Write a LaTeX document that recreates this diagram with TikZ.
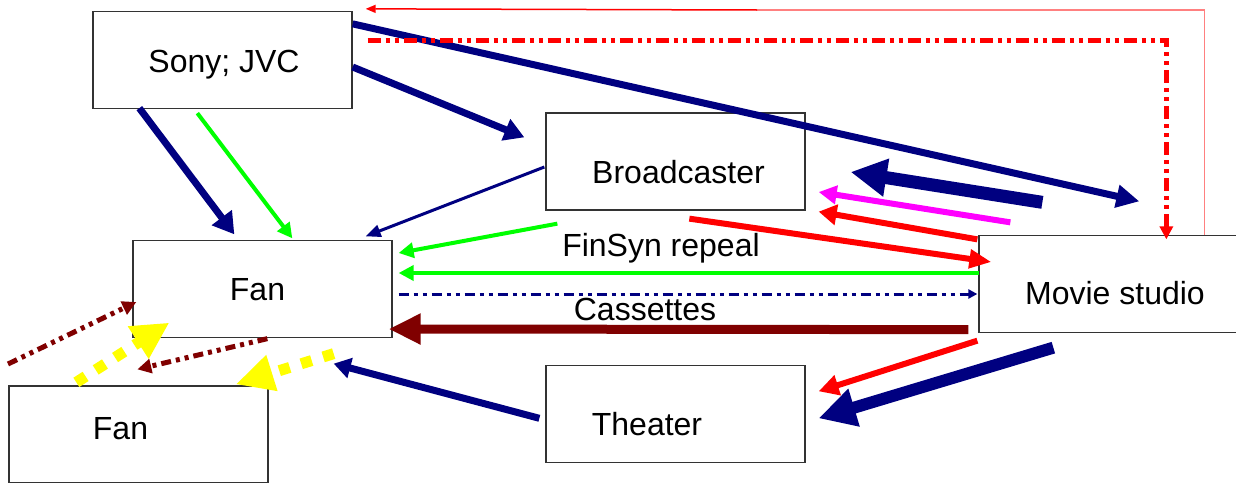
\documentclass[tikz,border=0pt]{standalone}
\usepackage{fontspec}
\setmainfont{Liberation Sans}
\usepackage{tikz}
\usetikzlibrary{arrows.meta, positioning, calc}
\definecolor{navy}{RGB}{0,0,128}
\definecolor{maroon}{RGB}{128,0,0}
\definecolor{fuchsia}{RGB}{255,0,255}
\definecolor{lemon}{RGB}{255,255,0}
\definecolor{lime}{RGB}{0,255,0}

\begin{document}
\begin{tikzpicture}[
  x=1pt, y=-1pt,
  every node/.style={font=\fontsize{32}{38}\selectfont},
  box/.style={draw=black!80, line width=1.3pt, minimum width=259pt, minimum height=97pt, inner sep=0pt},
  txt/.style={anchor=base},
  lbl/.style={text depth=0pt},
  wire/.style 2 args={draw=#1, line width=#2pt},
  head/.style 2 args={-{Triangle[length=#1pt, width=#2pt]}},
  dashdotdot/.style={dash pattern=on #1pt off 5pt on 4pt off 5pt on 4pt off 5pt},
  blocks/.style={dash pattern=on 11pt off 12pt}
]
\useasboundingbox (0,0) rectangle (1236,482);

% Nodes
\node[box, label={[lbl, shift={(1.5,1)}]center:Sony; JVC}] (sony) at (222.5,60) {};
\node[box, label={[lbl, shift={(3,10)}]center:Broadcaster}] (bc) at (675.5,161.5) {};
\node[box, label={[lbl, shift={(-5,0.5)}]center:Fan}] (fan1) at (262.5,289) {};
\node[box, label={[lbl, shift={(6.5,9)}]center:Movie studio}] (ms) at (1108.5,284) {};
\node[box, below=154pt of bc, label={[lbl, shift={(-28.5,10)}]center:Theater}] (th) {};
\node[box, label={[lbl, shift={(-18,-6.5)}]center:Fan}] (fan2) at (138.5,434.5) {};
\node[txt] (finsyn) at (661,256) {FinSyn repeal};
\node[txt] (cassettes) at (645,320) {Cassettes};

% Pointers
\coordinate (fade) at (757,10);
\coordinate (loose) at (8,364);
\draw[wire={red!50}{1.5}] ($(ms.north west)+(226,0)$) |- (fade);
\draw[wire={red}{1.5}, head={10}{8}] (fade) -- ($(sony.north east)+(13,-2)$);
\draw[wire={navy}{7}, head={23}{22}] ($(sony.north east)+(0,13)$) -- ($(ms.north west)+(161,-33.5)$);
\draw[wire={red}{5}, dashdotdot=13, head={13}{13}] ($(sony.north east)+(15,30)$) -| ($(ms.north west)+(188,4.5)$);
\draw[wire={navy}{7}, head={20}{22}] ($(sony.east)+(0,7)$) -- ($(bc.north west)+(-21,25)$);
\draw[wire={navy}{7}, head={21}{24}] ($(sony.south west)+(47,-1)$) -- ($(fan1.north west)+(102,-5.5)$);
\draw[wire={lime}{4}, head={15}{15}] ($(sony.south west)+(105,4)$) -- ($(fan1.north west)+(160,-1.5)$);
\draw[wire={navy}{3}, head={15}{12}] ($(bc.west)+(-1,5.5)$) -- ($(fan1.north east)+(-27,-3.5)$);
\draw[wire={lime}{4}, head={15}{15}] ($(bc.south west)+(12,13)$) -- ($(fan1.east)+(6,-36)$);
\draw[wire={red}{6}, head={22}{18}] ($(bc.south west)+(144,8)$) -- ($(ms.west)+(13,-22)$);
\draw[wire={red}{6}, head={18}{20}] ($(ms.north west)+(-1,4.5)$) -- ($(bc.south east)+(13,1)$);
\draw[wire={fuchsia}{6}, head={18}{18}] ($(ms.north west)+(32,-12.5)$) -- ($(bc.east)+(13,30.5)$);
\draw[wire={navy}{13}, head={36}{36}] ($(ms.north west)+(64,-32.5)$) -- ($(bc.east)+(45,10.5)$);
\draw[wire={lime}{4}, head={15}{15}] ($(ms.west)+(1,-11)$) -- ($(fan1.east)+(6,-16)$);
\draw[wire={navy}{3}, dashdotdot=10, head={9}{9}] ($(fan1.east)+(6,5)$) -- ($(ms.west)+(-1,10)$);
\draw[wire={maroon}{9}, head={32}{29}] ($(ms.south west)+(-10,-3.5)$) -- ($(fan1.east)+(-4,40)$);
\draw[wire={red}{6}, head={20}{20}] ($(ms.south west)+(-1,7.5)$) -- ($(th.east)+(13,-22.5)$);
\draw[wire={navy}{12}, head={37}{37}] ($(ms.south west)+(75,14.5)$) -- ($(th.east)+(13,4.5)$);
\draw[wire={navy}{7}, head={17}{20}] ($(th.west)+(-6,4.5)$) -- ($(fan1.south east)+(-59,25.5)$);
\draw[wire={lemon}{11}, blocks, head={38}{35}] ($(fan1.south east)+(-59,15.5)$) -- ($(fan2.north east)+(-33,-1)$);
\draw[wire={lemon}{11}, blocks, head={37}{36}] ($(fan2.north west)+(68,-3)$) -- ($(fan1.south west)+(37,-15.5)$);
\draw[wire={maroon}{5}, dashdotdot=10, head={14}{14}] ($(fan1.south west)+(135,0.5)$) -- ($(fan2.north west)+(129,-16)$);
\draw[wire={maroon}{5}, dashdotdot=10, head={14}{14}] (loose) -- ($(fan1.west)+(4,13)$);
\end{tikzpicture}
\end{document}
